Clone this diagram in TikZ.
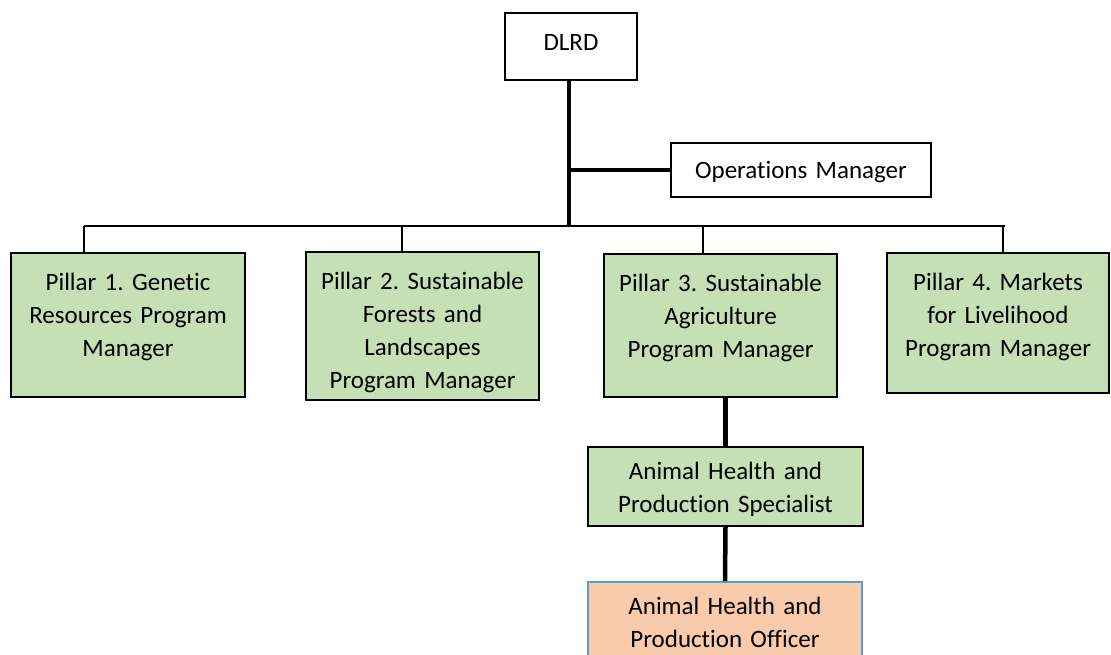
\documentclass[tikz,border=0pt]{standalone}
\usepackage{fontspec}
\setmainfont{Carlito}[Ligatures=NoCommon]
\frenchspacing
\definecolor{pillargreen}{HTML}{C5E0B4}
\definecolor{officerfill}{HTML}{F8CBAD}
\definecolor{officerline}{HTML}{5B9BD5}
\begin{document}
\begin{tikzpicture}[x=1pt,y=-1pt,
  every node/.style={inner sep=0pt,align=center,font=\fontsize{25}{33}\selectfont},
  post/.style={draw,line width=1.8pt},
  pillar/.style={post,fill=pillargreen},
  stem/.style={line width=4.5pt},
  link/.style={line width=1.8pt}]
\clip (0,0) rectangle (1111,654);
% head office
\node[post,text width=132pt,text height=37pt,text depth=30pt] (dlrd) at (571,46.5) {DLRD};
\node[post,text width=260pt,text height=35pt,text depth=19pt] (ops) at (801,170) {Operations Manager};
% pillars
\node[pillar,text width=234pt,text height=37pt,text depth=107pt] (p1) at (128,325) {Pillar 1. Genetic\\Resources Program\\Manager};
\node[pillar,text width=233pt,text height=37pt,text depth=111pt] (p2) at (422.5,326) {Pillar 2. Sustainable\\Forests and\\Landscapes\\Program Manager};
\node[pillar,text width=233pt,text height=37pt,text depth=106pt] (p3) at (720.5,325.5) {Pillar 3. Sustainable\\Agriculture\\Program Manager};
\node[pillar,text width=222pt,text height=37pt,text depth=103pt] (p4) at (998,323) {Pillar 4. Markets\\for Livelihood\\Program Manager};
% staff under pillar 3
\node[pillar,text width=275pt,text height=32pt,text depth=47pt] (spec) at (725.5,486.5) {Animal Health and\\Production Specialist};
\node[post,draw=officerline,fill=officerfill,text width=274pt,text height=32pt,text depth=49pt] (officer) at (725,622.5) {Animal Health and\\Production Officer};

\coordinate (hub) at (569,226);
\coordinate (bar west) at (84,226);
\coordinate (bar east) at (1005,226);
\draw[stem] (dlrd.south -| hub) -- (hub);
\draw[line width=3.5pt] (hub |- ops.west) -- (ops.west);
\draw[link] (bar west) -- (bar east);
\foreach \name/\x in {p1/84,p2/402,p3/703,p4/1003}
  \draw[link] (\x,226) -- (\x,226 |- \name.north);
\draw[stem] (spec.north |- p3.south) -- (spec.north);
\draw[stem] (spec.south) -- (officer.north);
\end{tikzpicture}
\end{document}
